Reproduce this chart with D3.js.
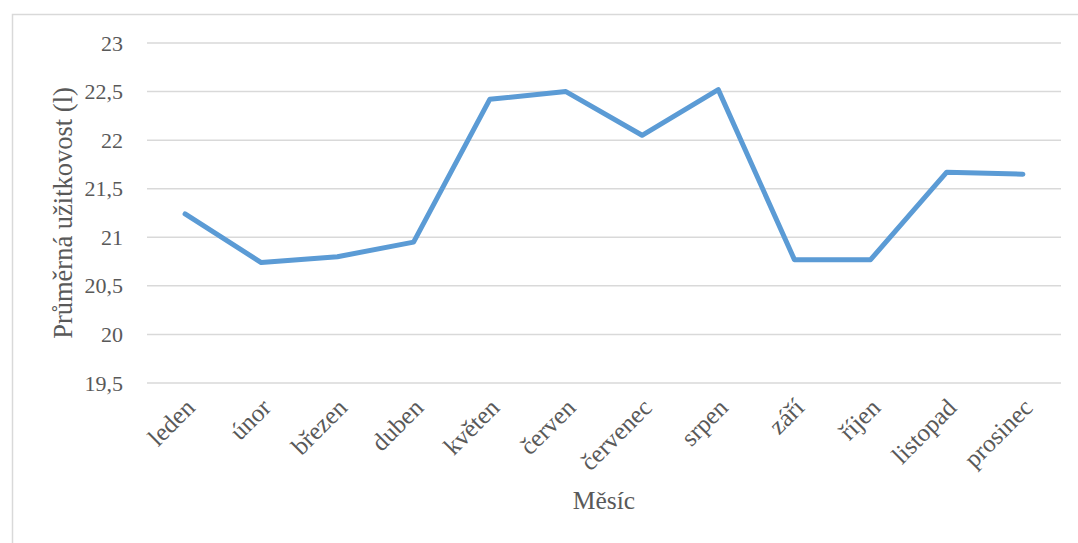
<!DOCTYPE html>
<html>
<head>
<meta charset="utf-8">
<script src="https://cdn.jsdelivr.net/npm/d3@7"></script>
<style>
  html, body { margin: 0; padding: 0; background: #fff; }
  svg { display: block; font-family: "Liberation Serif", "Times New Roman", serif; }
</style>
</head>
<body>
<svg id="chart" width="1078" height="543"></svg>
<script>
// Průměrná měsíční užitkovost (l)
const months = ["leden", "únor", "březen", "duben", "květen", "červen",
                "červenec", "srpen", "září", "říjen", "listopad", "prosinec"];
const yieldValues = [21.24, 20.74, 20.80, 20.95, 22.42, 22.50,
                     22.05, 22.52, 20.77, 20.77, 21.67, 21.65];
const yTicks = [19.5, 20, 20.5, 21, 21.5, 22, 22.5, 23];
const yTitle = "Průměrná užitkovost (l)";
const xTitle = "Měsíc";

const svg = d3.select("#chart");
const margin = { left: 147, right: 1061, top: 43, bottom: 383 };

// chart frame
svg.append("rect")
  .attr("x", 12.5).attr("y", 14.5)
  .attr("width", 1100).attr("height", 600)
  .attr("fill", "#fff")
  .attr("stroke", "#d9d9d9")
  .attr("stroke-width", 1.5);

const x = d3.scaleBand().domain(months).range([margin.left, margin.right]);
const y = d3.scaleLinear().domain([19.5, 23]).range([margin.bottom, margin.top]);

const fmt = d => String(d).replace(".", ",");

// horizontal gridlines
svg.append("g")
  .selectAll("line")
  .data(yTicks)
  .join("line")
  .attr("x1", margin.left).attr("x2", margin.right)
  .attr("y1", d => y(d)).attr("y2", d => y(d))
  .attr("stroke", "#d9d9d9")
  .attr("stroke-width", 1.5);

// y axis labels
const yAxis = d3.axisLeft(y).tickValues(yTicks).tickFormat(fmt).tickSize(0).tickPadding(0);
const gy = svg.append("g").attr("transform", `translate(${margin.left - 24},0)`).call(yAxis);
gy.select(".domain").remove();
gy.selectAll("text")
  .attr("fill", "#595959")
  .style("font-family", "Liberation Serif, Times New Roman, serif")
  .style("font-size", "22px");

// x axis labels, rotated
const xAxis = d3.axisBottom(x).tickSize(0).tickPadding(0);
const gx = svg.append("g").attr("transform", `translate(0,${margin.bottom})`).call(xAxis);
gx.select(".domain").remove();
gx.selectAll(".tick text")
  .attr("fill", "#595959")
  .style("font-family", "Liberation Serif, Times New Roman, serif")
  .style("font-size", "25px")
  .attr("text-anchor", "end")
  .attr("dy", "0.35em")
  .attr("y", 0)
  .attr("transform", "translate(5,20) rotate(-45)");

// data line
const line = d3.line()
  .x((d, i) => x(months[i]) + x.bandwidth() / 2)
  .y(d => y(d));

svg.append("path")
  .datum(yieldValues)
  .attr("d", line)
  .attr("fill", "none")
  .attr("stroke", "#5B9BD5")
  .attr("stroke-width", 5)
  .attr("stroke-linejoin", "round")
  .attr("stroke-linecap", "round");

// axis titles
svg.append("text")
  .attr("transform", `translate(72,${(margin.top + margin.bottom) / 2}) rotate(-90)`)
  .attr("text-anchor", "middle")
  .attr("fill", "#595959")
  .style("font-size", "26.5px")
  .text(yTitle);

svg.append("text")
  .attr("x", (margin.left + margin.right) / 2)
  .attr("y", 509)
  .attr("text-anchor", "middle")
  .attr("fill", "#595959")
  .style("font-size", "25.5px")
  .text(xTitle);
</script>
</body>
</html>
